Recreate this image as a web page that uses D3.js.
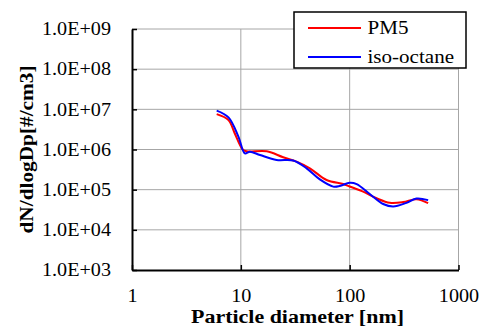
<!DOCTYPE html>
<html>
<head>
<meta charset="utf-8">
<script src="https://cdn.jsdelivr.net/npm/d3@7"></script>
<style>
  body { margin: 0; background: #fff; }
</style>
</head>
<body>
<div id="chart"></div>
<script>
// particle diameter [nm] and dN/dlogDp
var pm5Dp   = [6.0, 7.7, 8.8, 10.4, 11.3, 17.3, 24.5, 32.5, 43.1, 61.3, 87.3, 100, 133, 177, 234, 310, 411, 526];
var pm5N    = [7.6e6, 5.4e6, 2.5e6, 1.0e6, 9.0e5, 9.0e5, 6.4e5, 5.0e5, 3.4e5, 1.74e5, 1.38e5, 1.2e5, 8.9e4, 6.1e4, 4.7e4, 4.9e4, 5.8e4, 4.6e4];
var isoDp   = [6.0, 7.7, 9.5, 10.9, 12.1, 15, 21.3, 30.3, 40.2, 53.2, 70.6, 81, 100, 116, 153, 203, 251, 333, 411, 526];
var isoN    = [9.3e6, 6.3e6, 2.1e6, 8.0e5, 8.8e5, 7.3e5, 5.5e5, 5.3e5, 3.4e5, 1.8e5, 1.19e5, 1.23e5, 1.49e5, 1.38e5, 7.8e4, 4.4e4, 3.8e4, 4.7e4, 6.0e4, 5.5e4];
var seriesNames = ["PM5", "iso-octane"];
var seriesColors = ["#ff0000", "#0000ff"];
var xTicks = [1, 10, 100, 1000];
var yTicks = [1e3, 1e4, 1e5, 1e6, 1e7, 1e8, 1e9];

var width = 481, height = 334;
var margin = {left: 132, right: 22.5, top: 29, bottom: 64};
var serif = "Liberation Serif";

var svg = d3.select("#chart").append("svg")
    .attr("width", width)
    .attr("height", height)
    .style("display", "block");

var x = d3.scaleLog().domain([1, 1000]).range([margin.left, width - margin.right]);
var y = d3.scaleLog().domain([1e3, 1e9]).range([height - margin.bottom, margin.top]);

// the reference text is a bit wider than the font gives, stretch it
function stretch(sel, k) {
  sel.each(function() {
    var w = this.getComputedTextLength();
    d3.select(this).attr("textLength", w * k).attr("lengthAdjust", "spacingAndGlyphs");
  });
}

// grid
svg.append("g").selectAll("line")
    .data(yTicks.slice(1))
  .enter().append("line")
    .attr("x1", x(1)).attr("x2", x(1000))
    .attr("y1", function(d) { return y(d); })
    .attr("y2", function(d) { return y(d); })
    .attr("stroke", "#a6a6a6").attr("stroke-width", 1);

svg.append("g").selectAll("line")
    .data(xTicks.slice(1))
  .enter().append("line")
    .attr("x1", function(d) { return x(d); })
    .attr("x2", function(d) { return x(d); })
    .attr("y1", y(1e3)).attr("y2", y(1e9))
    .attr("stroke", "#a6a6a6").attr("stroke-width", 1);

// axes
var xAxis = d3.axisBottom(x).tickValues(xTicks).tickSizeInner(-5).tickSizeOuter(0)
    .tickFormat(d3.format("d"));
var gx = svg.append("g")
    .attr("transform", "translate(0," + y(1e3) + ")")
    .call(xAxis);
gx.attr("font-family", serif);
gx.select(".domain").attr("stroke", "#000").attr("stroke-width", 2);
gx.selectAll(".tick line").attr("stroke", "#000").attr("stroke-width", 1.5);
gx.selectAll(".tick text")
    .attr("y", 19).attr("dy", "0.71em")
    .attr("font-family", serif)
    .attr("font-size", 18).attr("fill", "#000")
    .call(stretch, 1.12);

var yAxis = d3.axisLeft(y).tickValues(yTicks).tickSizeInner(-5).tickSizeOuter(0)
    .tickFormat(function(d) {
      var e = Math.round(Math.log10(d));
      return "1.0E+" + (e < 10 ? "0" + e : e);
    });
var gy = svg.append("g")
    .attr("transform", "translate(" + x(1) + ",0)")
    .call(yAxis);
gy.attr("font-family", serif);
gy.select(".domain").attr("stroke", "#000").attr("stroke-width", 2);
gy.selectAll(".tick line").attr("stroke", "#000").attr("stroke-width", 1.5);
gy.selectAll(".tick text")
    .attr("x", -21)
    .attr("font-family", serif)
    .attr("font-size", 18).attr("fill", "#000")
    .call(stretch, 1.12);

// lines
var line = d3.line()
    .x(function(d) { return x(d[0]); })
    .y(function(d) { return y(d[1]); })
    .curve(d3.curveCatmullRom.alpha(0.5));

var series = [d3.zip(pm5Dp, pm5N), d3.zip(isoDp, isoN)];
svg.append("g").selectAll("path")
    .data(series)
  .enter().append("path")
    .attr("d", line)
    .attr("fill", "none")
    .attr("stroke", function(d, i) { return seriesColors[i]; })
    .attr("stroke-width", 2);

// axis titles
svg.append("text")
    .attr("x", 297.5)
    .attr("y", 323)
    .attr("text-anchor", "middle")
    .attr("font-family", serif)
    .attr("font-weight", "bold")
    .attr("font-size", 18.5)
    .attr("textLength", 213).attr("lengthAdjust", "spacingAndGlyphs")
    .text("Particle diameter [nm]");

svg.append("text")
    .attr("transform", "translate(33," + ((y(1e3) + y(1e9)) / 2) + ") rotate(-90)")
    .attr("text-anchor", "middle")
    .attr("font-family", serif)
    .attr("font-weight", "bold")
    .attr("font-size", 18)
    .attr("textLength", 168).attr("lengthAdjust", "spacingAndGlyphs")
    .text("dN/dlogDp[#/cm3]");

// legend
var legend = svg.append("g");
legend.append("rect")
    .attr("x", 294).attr("y", 12)
    .attr("width", 172).attr("height", 56)
    .attr("fill", "#fff").attr("stroke", "#000").attr("stroke-width", 1.5);

var item = legend.selectAll("g")
    .data(seriesNames)
  .enter().append("g")
    .attr("transform", function(d, i) { return "translate(0," + (28 + i * 29) + ")"; });
item.append("line")
    .attr("x1", 308).attr("x2", 361)
    .attr("stroke", function(d, i) { return seriesColors[i]; })
    .attr("stroke-width", 2);
item.append("text")
    .attr("x", 367.5).attr("dy", "0.35em")
    .attr("font-family", serif)
    .attr("font-size", 18)
    .text(function(d) { return d; })
    .call(stretch, 1.17);
</script>
</body>
</html>
